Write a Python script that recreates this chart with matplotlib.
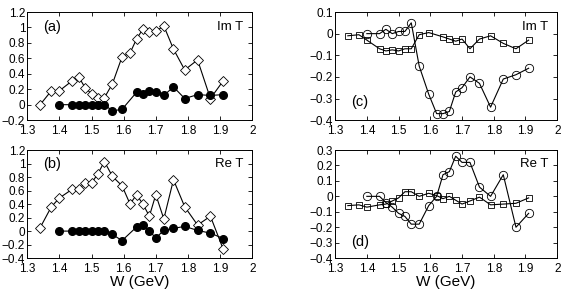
import matplotlib
matplotlib.use('Agg')
import matplotlib.pyplot as plt

plt.rcParams['font.family'] = ['Liberation Sans', 'DejaVu Sans']

# energies (GeV)
W = [1.34, 1.375, 1.40, 1.44, 1.46, 1.48, 1.50, 1.52, 1.54, 1.565, 1.595,
     1.62, 1.64, 1.66, 1.68, 1.70, 1.725, 1.755, 1.79, 1.83, 1.87, 1.91]
W_fill = [1.40, 1.44, 1.46, 1.48, 1.50, 1.52, 1.54, 1.565, 1.595,
          1.64, 1.66, 1.68, 1.70, 1.725, 1.755, 1.79, 1.83, 1.87, 1.91]
W_circ = [1.40, 1.44, 1.46, 1.48, 1.50, 1.52, 1.54, 1.565, 1.595,
          1.62, 1.64, 1.66, 1.68, 1.70, 1.725, 1.755, 1.79, 1.83, 1.87, 1.91]

# panel (a) Im T
a_diam = [0.0, 0.18, 0.18, 0.31, 0.36, 0.22, 0.14, 0.09, 0.09, 0.27, 0.62,
          0.67, 0.85, 0.98, 0.94, 0.95, 1.02, 0.72, 0.45, 0.58, 0.08, 0.31]
a_fill = [0.0, 0.0, 0.0, 0.0, 0.0, 0.0, 0.0, -0.08, -0.06,
          0.16, 0.14, 0.18, 0.17, 0.12, 0.23, 0.08, 0.13, 0.12, 0.13]

# panel (b) Re T
b_diam = [0.05, 0.36, 0.49, 0.62, 0.62, 0.71, 0.71, 0.85, 1.03, 0.81, 0.67,
          0.40, 0.54, 0.40, 0.22, 0.54, 0.18, 0.76, 0.36, 0.09, 0.22, -0.27]
b_fill = [0.0, 0.0, 0.0, 0.0, 0.0, 0.0, 0.0, -0.05, -0.14,
          0.06, 0.09, 0.0, -0.10, 0.01, 0.04, 0.07, 0.01, -0.03, -0.11]

# panel (c) Im T  (no square at 1.62)
W_sq_c = [1.34, 1.375, 1.40, 1.44, 1.46, 1.48, 1.50, 1.52, 1.54, 1.565, 1.595,
          1.64, 1.66, 1.68, 1.70, 1.725, 1.755, 1.79, 1.83, 1.87, 1.91]
c_sq = [-0.01, -0.005, -0.03, -0.07, -0.08, -0.075, -0.08, -0.07, -0.07,
        -0.005, 0.005, -0.015, -0.025, -0.035, -0.025, -0.07, -0.025,
        -0.01, -0.045, -0.07, -0.03]
c_circ = [0.0, 0.0, 0.02, 0.0, 0.01, 0.01, 0.05, -0.15, -0.28,
          -0.37, -0.37, -0.36, -0.27, -0.25, -0.20, -0.23, -0.34, -0.21, -0.19, -0.16]

# panel (d) Re T
d_sq = [-0.06, -0.055, -0.07, -0.055, -0.05, -0.03, -0.01, 0.03, 0.03,
        0.0, 0.02, 0.005, -0.015, 0.0, -0.025, -0.05, -0.03, -0.005,
        -0.055, -0.05, -0.045, -0.01]
d_circ = [0.0, 0.0, -0.04, -0.07, -0.11, -0.13, -0.18, -0.18, -0.06,
          0.0, 0.14, 0.16, 0.26, 0.22, 0.22, 0.06, 0.0, 0.14, -0.2, -0.11]

x_ticks = [1.3, 1.4, 1.5, 1.6, 1.7, 1.8, 1.9, 2.0]
x_labels = ['1.3', '1.4', '1.5', '1.6', '1.7', '1.8', '1.9', '2']


def style_axes(ax, ylim, yticks, ylabels):
    ax.set_xlim(1.3, 2.0)
    ax.set_xticks(x_ticks)
    ax.set_xticklabels(x_labels)
    ax.set_ylim(*ylim)
    ax.set_yticks(yticks)
    ax.set_yticklabels(ylabels)
    ax.tick_params(direction='in', top=True, right=True, length=3,
                   width=0.6, labelsize=8.5)
    ax.tick_params(axis='x', pad=3.5)
    ax.tick_params(axis='y', pad=1.5)
    for s in ax.spines.values():
        s.set_linewidth(0.7)


fig = plt.figure(figsize=(5.68, 2.93), dpi=100)
ax_a = fig.add_axes([0.048, 0.590, 0.396, 0.369])
ax_b = fig.add_axes([0.048, 0.119, 0.396, 0.369])
ax_c = fig.add_axes([0.590, 0.590, 0.391, 0.369])
ax_d = fig.add_axes([0.590, 0.119, 0.391, 0.369])

lw = 0.8
diam = dict(marker='D', markersize=4.8, mfc='white', mec='black', mew=0.6,
            color='black', lw=lw)
filled = dict(marker='o', markersize=5.5, mfc='black', mec='black',
              color='black', lw=lw)
circ = dict(marker='o', markersize=6, mfc='none', mec='black', mew=0.6,
            color='black', lw=lw)
sq = dict(marker='s', markersize=4.5, mfc='none', mec='black', mew=0.6,
          color='black', lw=lw)

# (a)
ax_a.plot(W, a_diam, **diam)
ax_a.plot(W_fill, a_fill, **filled)
style_axes(ax_a, (-0.2, 1.2), [-0.2, 0, 0.2, 0.4, 0.6, 0.8, 1, 1.2],
           ['\u22120.2', '0', '0.2', '0.4', '0.6', '0.8', '1', '1.2'])
ax_a.text(0.07, 0.86, '(a)', transform=ax_a.transAxes, fontsize=10.5, va='center')
ax_a.text(0.96, 0.86, 'Im T', transform=ax_a.transAxes, fontsize=9.5,
          va='center', ha='right')

# (b)
ax_b.plot(W, b_diam, **diam)
ax_b.plot(W_fill, b_fill, **filled)
style_axes(ax_b, (-0.4, 1.2), [-0.4, -0.2, 0, 0.2, 0.4, 0.6, 0.8, 1, 1.2],
           ['\u22120.4', '\u22120.2', '0', '0.2', '0.4', '0.6', '0.8', '1', '1.2'])
ax_b.text(0.07, 0.87, '(b)', transform=ax_b.transAxes, fontsize=10.5, va='center')
ax_b.text(0.96, 0.87, 'Re T', transform=ax_b.transAxes, fontsize=9.5,
          va='center', ha='right')
ax_b.set_xlabel('W (GeV)', fontsize=11, labelpad=0)

# (c)
ax_c.plot(W_sq_c, c_sq, **sq)
ax_c.plot(W_circ, c_circ, **circ)
style_axes(ax_c, (-0.4, 0.1), [-0.4, -0.3, -0.2, -0.1, 0, 0.1],
           ['\u22120.4', '\u22120.3', '\u22120.2', '\u22120.1', '0', '0.1'])
ax_c.text(0.07, 0.17, '(c)', transform=ax_c.transAxes, fontsize=10.5, va='center')
ax_c.text(0.96, 0.86, 'Im T', transform=ax_c.transAxes, fontsize=9.5,
          va='center', ha='right')

# (d)
ax_d.plot(W, d_sq, **sq)
ax_d.plot(W_circ, d_circ, **circ)
style_axes(ax_d, (-0.4, 0.3), [-0.4, -0.3, -0.2, -0.1, 0, 0.1, 0.2, 0.3],
           ['\u22120.4', '\u22120.3', '\u22120.2', '\u22120.1', '0', '0.1', '0.2', '0.3'])
ax_d.text(0.07, 0.15, '(d)', transform=ax_d.transAxes, fontsize=10.5, va='center')
ax_d.text(0.96, 0.87, 'Re T', transform=ax_d.transAxes, fontsize=9.5,
          va='center', ha='right')
ax_d.set_xlabel('W (GeV)', fontsize=11, labelpad=0)

fig.savefig('out.png', dpi=100)
